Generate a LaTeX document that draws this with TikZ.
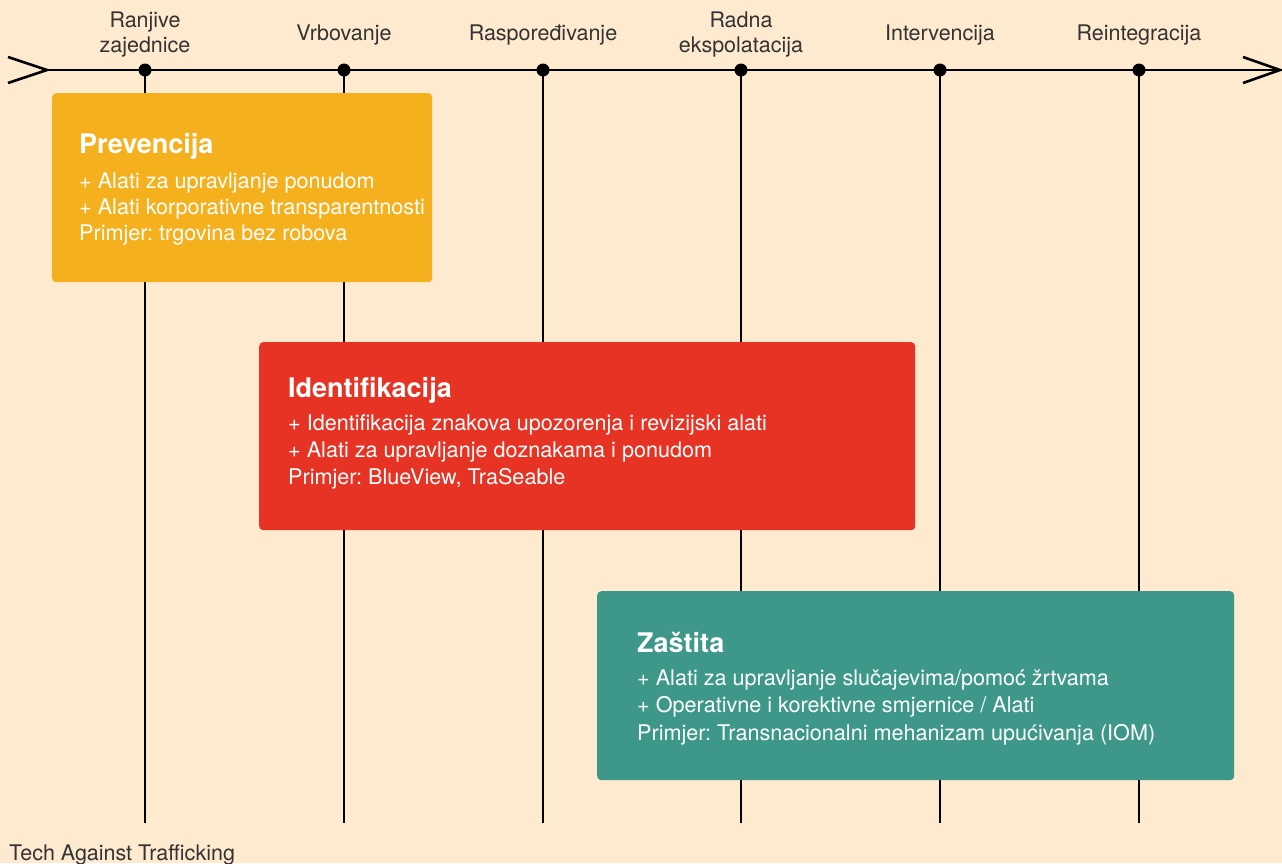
\documentclass[tikz,border=0pt]{standalone}
\usepackage{fontspec}
\setmainfont{TeX Gyre Heros}
\frenchspacing
\definecolor{bg}{HTML}{FDEACF}
\definecolor{prevc}{HTML}{F5B01E}
\definecolor{identc}{HTML}{E63323}
\definecolor{zastc}{HTML}{3E9889}
\definecolor{labc}{HTML}{333333}
\begin{document}
\begin{tikzpicture}[x=1pt,y=-1pt,
  axisline/.style={line width=2.6pt,black},
  stagedot/.style={circle,fill=black,inner sep=0pt,minimum size=13pt},
  stagelab/.style={anchor=base,font=\fontsize{21.5}{26}\selectfont,text=labc,inner sep=0pt},
  phasebox/.style={anchor=north west,rounded corners=4pt,inner sep=0pt},
  phasetitle/.style={anchor=base west,font=\fontsize{27}{32}\bfseries\selectfont,text=white,inner sep=0pt},
  phaseline/.style={anchor=base west,font=\fontsize{21.6}{26}\selectfont,text=white,inner sep=0pt}]
\fill[bg] (0,0) rectangle (1282,863);
\useasboundingbox (0,0) rectangle (1282,863);

% stage markers on the time axis
\foreach \x/\n in {145/s1,344/s2,543/s3,741/s4,940/s5,1139/s6}{
  \coordinate (\n top) at (\x,70);
  \coordinate (\n end) at (\x,823);
  \draw[axisline] (\n top) -- (\n end);
}

% main axis with open chevrons at both ends
\coordinate (axL) at (47,70);
\coordinate (axR) at (1280,70);
\draw[axisline] (axL) -- (axR);
\draw[axisline,line join=miter] (8,57) -- (axL) -- (8,83);
\draw[axisline,line join=miter] (1243,57) -- (axR) -- (1243,83);
\foreach \n in {s1,s2,s3,s4,s5,s6}{
  \node[stagedot] (\n) at (\n top) {};
}

% stage labels
\node[stagelab] (l1a) at (145,27) {Ranjive};
\node[stagelab] (l1b) at (145,52) {zajednice};
\node[stagelab] (l2) at (344,40) {Vrbovanje};
\node[stagelab] (l3) at (543,40) {Raspoređivanje};
\node[stagelab] (l4a) at (741,27) {Radna};
\node[stagelab] (l4b) at (741,52) {ekspolatacija};
\node[stagelab] (l5) at (940,40) {Intervencija};
\node[stagelab] (l6) at (1139,40) {Reintegracija};

% Prevencija
\node[phasebox,fill=prevc,minimum width=380pt,minimum height=189pt] (prev) at (52,93) {};
\node[phasetitle] (prevT) at (79,153) {Prevencija};
\node[phaseline] (prev1) at (79,188) {+ Alati za upravljanje ponudom};
\node[phaseline] (prev2) at (79,214) {+ Alati korporativne transparentnosti};
\node[phaseline] (prev3) at (79,240) {Primjer: trgovina bez robova};

% Identifikacija
\node[phasebox,fill=identc,minimum width=656pt,minimum height=188pt] (ident) at (259,342) {};
\node[phasetitle] (identT) at (288,397) {Identifikacija};
\node[phaseline] (ident1) at (288,430) {+ Identifikacija znakova upozorenja i revizijski alati};
\node[phaseline] (ident2) at (288,457) {+ Alati za upravljanje doznakama i ponudom};
\node[phaseline] (ident3) at (288,484) {Primjer: BlueView, TraSeable};

% Zaštita
\node[phasebox,fill=zastc,minimum width=637pt,minimum height=189pt] (zast) at (597,591) {};
\node[phasetitle] (zastT) at (637,652) {Zaštita};
\node[phaseline] (zast1) at (637,685) {+ Alati za upravljanje slučajevima/pomoć žrtvama};
\node[phaseline] (zast2) at (637,712) {+ Operativne i korektivne smjernice / Alati};
\node[phaseline] (zast3) at (637,740) {Primjer: Transnacionalni mehanizam upućivanja (IOM)};

% source line
\node[anchor=base west,font=\fontsize{21.5}{26}\selectfont,text=labc,inner sep=0pt] (src) at (9,860) {Tech Against Trafficking};
\end{tikzpicture}
\end{document}
